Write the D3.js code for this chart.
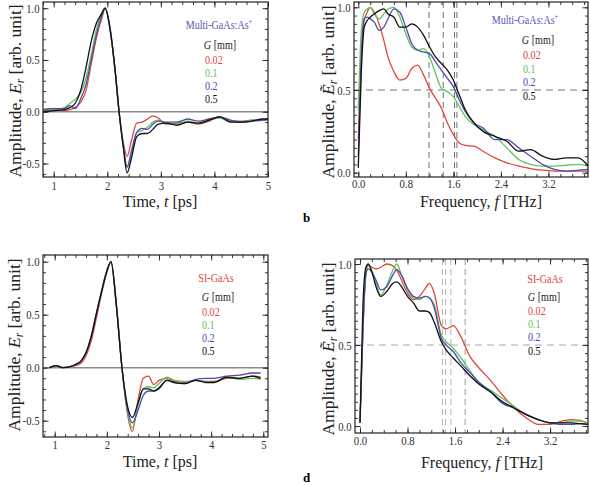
<!DOCTYPE html>
<html>
<head>
<meta charset="utf-8">
<script src="https://cdnjs.cloudflare.com/ajax/libs/d3/7.8.5/d3.min.js"></script>
<style>
  html, body { margin: 0; padding: 0; background: #fff; }
  svg { display: block; font-family: "Liberation Serif", "Times New Roman", serif; }
</style>
</head>
<body>
<svg id="chart" width="590" height="485"></svg>
<script>
// gap sizes G [mm] and their colours
const gapLabels = ["0.02", "0.1", "0.2", "0.5"];
const gapColors = ["#e2453c", "#5cc65a", "#4b4bb3", "#111111"];

// (a) Multi-GaAs:As+ time domain
const timeA = [0.8,1.0,1.2,1.3,1.4,1.5,1.6,1.7,1.8,1.9,1.96,2.05,2.15,2.22,2.3,2.37,2.45,2.55,2.65,2.75,2.85,2.95,3.1,3.3,3.5,3.7,3.9,4.1,4.3,4.5,4.7,4.9,5.0];
const aRed   = [0.02,0.03,0.01,0.02,0.04,0.09,0.2,0.46,0.72,0.91,1.0,0.8,0.38,0.0,-0.3,-0.43,-0.28,-0.11,-0.1,-0.07,-0.04,-0.06,-0.12,-0.11,-0.1,-0.12,-0.09,-0.05,-0.09,-0.09,-0.08,-0.08,-0.08];
const aGreen = [0.01,0.02,0.04,0.08,0.12,0.18,0.32,0.55,0.8,0.96,1.0,0.8,0.37,0.0,-0.33,-0.54,-0.4,-0.2,-0.18,-0.15,-0.1,-0.08,-0.11,-0.12,-0.09,-0.11,-0.08,-0.06,-0.1,-0.1,-0.08,-0.08,-0.06];
const aBlue  = [0.02,0.03,0.03,0.06,0.03,0.12,0.26,0.5,0.75,0.93,1.0,0.82,0.38,0.0,-0.33,-0.53,-0.38,-0.2,-0.16,-0.17,-0.12,-0.09,-0.1,-0.1,-0.07,-0.09,-0.07,-0.05,-0.08,-0.1,-0.09,-0.08,-0.07];
const aBlack = [0.0,0.01,0.02,0.04,0.08,0.2,0.42,0.68,0.86,0.95,1.0,0.8,0.38,0.0,-0.35,-0.59,-0.45,-0.24,-0.21,-0.21,-0.17,-0.12,-0.11,-0.13,-0.1,-0.11,-0.08,-0.05,-0.1,-0.1,-0.09,-0.07,-0.07];

// (b) Multi-GaAs:As+ spectra
const freqB = [0,0.05,0.1,0.15,0.2,0.27,0.35,0.43,0.5,0.6,0.7,0.8,0.9,1.0,1.1,1.2,1.3,1.4,1.5,1.6,1.7,1.8,1.95,2.1,2.3,2.5,2.7,2.9,3.1,3.3,3.5,3.7,3.87];
const bRed   = [0.2,0.7,0.92,0.97,1.0,0.97,0.9,0.8,0.7,0.61,0.56,0.57,0.63,0.65,0.59,0.51,0.45,0.39,0.3,0.23,0.18,0.165,0.16,0.13,0.09,0.06,0.04,0.025,0.015,0.01,0.01,0.01,0.01];
const bGreen = [0.38,0.85,0.97,0.99,1.0,0.96,0.93,0.96,0.99,1.0,0.94,0.84,0.76,0.74,0.75,0.7,0.6,0.51,0.49,0.46,0.4,0.34,0.29,0.26,0.22,0.15,0.08,0.05,0.04,0.04,0.045,0.05,0.04];
const bBlue  = [0.1,0.7,0.93,0.94,0.93,0.91,0.86,0.88,0.93,0.99,0.97,0.88,0.78,0.74,0.73,0.72,0.67,0.62,0.57,0.52,0.44,0.37,0.3,0.27,0.2,0.2,0.15,0.1,0.05,0.02,0.01,0.015,0.02];
const bBlack = [0.03,0.6,0.88,0.92,0.94,0.96,0.98,0.99,0.96,0.94,0.88,0.88,0.9,0.88,0.83,0.76,0.7,0.66,0.62,0.56,0.47,0.38,0.3,0.25,0.22,0.19,0.13,0.14,0.1,0.08,0.09,0.09,0.04];
const bCutoffs = [1.19, 1.43, 1.62, 1.66];

// (c) SI-GaAs time domain
const timeC = [0.9,1.03,1.15,1.3,1.4,1.5,1.6,1.7,1.8,1.9,2.0,2.08,2.18,2.29,2.4,2.49,2.6,2.7,2.8,2.9,3.0,3.15,3.3,3.5,3.7,3.9,4.05,4.3,4.55,4.8,4.95];
const cRed   = [0.0,0.02,0.0,0.01,0.02,0.04,0.11,0.25,0.47,0.7,0.9,1.0,0.62,0.0,-0.45,-0.6,-0.3,-0.1,-0.08,-0.16,-0.12,-0.1,-0.13,-0.14,-0.12,-0.13,-0.13,-0.1,-0.1,-0.08,-0.09];
const cGreen = [0.0,0.02,0.0,0.01,0.03,0.06,0.14,0.3,0.52,0.73,0.92,1.0,0.6,0.0,-0.42,-0.57,-0.35,-0.2,-0.18,-0.19,-0.15,-0.09,-0.12,-0.13,-0.12,-0.13,-0.14,-0.09,-0.11,-0.1,-0.11];
const cBlue  = [0.0,0.02,0.0,0.01,0.03,0.06,0.14,0.29,0.51,0.72,0.91,1.0,0.6,0.0,-0.4,-0.52,-0.4,-0.26,-0.22,-0.22,-0.2,-0.12,-0.14,-0.15,-0.11,-0.1,-0.1,-0.08,-0.07,-0.05,-0.05];
const cBlack = [0.0,0.02,0.0,0.01,0.03,0.06,0.14,0.29,0.51,0.72,0.91,1.0,0.6,0.0,-0.37,-0.47,-0.33,-0.2,-0.2,-0.22,-0.19,-0.12,-0.14,-0.15,-0.12,-0.14,-0.14,-0.09,-0.1,-0.08,-0.1];

// (d) SI-GaAs spectra
const freqD = [0,0.05,0.1,0.14,0.2,0.27,0.35,0.45,0.55,0.62,0.7,0.8,0.9,1.0,1.1,1.17,1.25,1.37,1.45,1.57,1.7,1.85,2.0,2.2,2.4,2.6,2.8,3.0,3.2,3.4,3.55,3.7,3.84];
const dRed   = [0.02,0.6,0.95,0.99,0.98,0.97,0.98,1.0,0.99,0.96,0.9,0.82,0.78,0.8,0.85,0.88,0.82,0.62,0.6,0.62,0.55,0.43,0.36,0.28,0.19,0.11,0.05,0.01,0.01,0.03,0.04,0.035,0.015];
const dGreen = [0.02,0.6,0.93,0.99,0.96,0.88,0.81,0.87,0.96,1.0,0.93,0.84,0.79,0.78,0.8,0.79,0.75,0.56,0.52,0.48,0.42,0.34,0.27,0.22,0.17,0.12,0.07,0.04,0.02,0.02,0.03,0.03,0.02];
const dBlue  = [0.02,0.6,0.94,0.97,0.95,0.9,0.84,0.86,0.93,0.965,0.93,0.85,0.8,0.79,0.8,0.79,0.73,0.54,0.5,0.46,0.39,0.33,0.27,0.21,0.14,0.11,0.07,0.04,0.02,0.01,0.01,0.015,0.01];
const dBlack = [0.02,0.75,0.98,1.0,0.95,0.86,0.8,0.83,0.88,0.89,0.86,0.8,0.76,0.71,0.71,0.7,0.64,0.52,0.47,0.42,0.37,0.31,0.26,0.21,0.15,0.11,0.07,0.04,0.02,0.02,0.02,0.015,0.01];
const dCutoffs = [1.39, 1.44, 1.53, 1.77];

// tick values
const timeTicks = [1, 2, 3, 4, 5];
const freqTicks = [0, 0.8, 1.6, 2.4, 3.2];
const timeAmpTicks = [-0.5, 0, 0.5, 1.0];
const specAmpTicks = [0, 0.5, 1.0];

const svg = d3.select("#chart");

function txt(parent, x, y, size, anchor, sx) {
  return parent.append("text")
    .attr("transform", `translate(${x},${y}) scale(${sx || 1},1)`)
    .attr("text-anchor", anchor || "start")
    .attr("font-size", size);
}

function drawPanel(p) {
  const x = d3.scaleLinear().domain(p.xDomain).range([p.left, p.right]);
  const y = d3.scaleLinear().domain(p.yDomain).range([p.bottom, p.top]);
  const g = svg.append("g");

  g.append("clipPath").attr("id", "clip-" + p.id)
    .append("rect")
    .attr("x", p.left).attr("y", p.top)
    .attr("width", p.right - p.left).attr("height", p.bottom - p.top);
  const plot = g.append("g").attr("clip-path", `url(#clip-${p.id})`);

  if (p.zeroLine) {
    plot.append("line")
      .attr("x1", p.left).attr("x2", p.right)
      .attr("y1", y(0)).attr("y2", y(0))
      .attr("stroke", "#8c8c8c").attr("stroke-width", 1.5);
  }

  if (p.cutoffs) {
    plot.append("line")
      .attr("x1", p.left).attr("x2", p.right)
      .attr("y1", y(0.5)).attr("y2", y(0.5))
      .attr("stroke", p.dashColor).attr("stroke-width", 1)
      .attr("stroke-dasharray", "7,5");
    plot.selectAll("line.cut")
      .data(p.cutoffs)
      .join("line")
      .attr("class", "cut")
      .attr("x1", d => x(d)).attr("x2", d => x(d))
      .attr("y1", p.top).attr("y2", p.bottom)
      .attr("stroke", (d, i) => p.cutColors[i]).attr("stroke-width", 1)
      .attr("stroke-dasharray", "6,4");
  }

  const line = d3.line()
    .x((d, i) => x(p.xs[i]))
    .y(d => y(d))
    .curve(d3.curveMonotoneX);

  plot.selectAll("path.curve")
    .data(p.series)
    .join("path")
    .attr("class", "curve")
    .attr("d", line)
    .attr("fill", "none")
    .attr("stroke", (d, i) => gapColors[i])
    .attr("stroke-width", 1.3);

  // frame
  g.append("rect")
    .attr("x", p.left).attr("y", p.top)
    .attr("width", p.right - p.left).attr("height", p.bottom - p.top)
    .attr("fill", "none").attr("stroke", "#222").attr("stroke-width", 1.2);

  // frame ticks, inward, on all four sides
  const sides = [
    { fn: d3.axisBottom, scale: x, tr: `translate(0,${p.bottom})`, major: p.xTicks, minor: p.xMinor, fmt: p.xFmt, pad: p.xPad },
    { fn: d3.axisTop,    scale: x, tr: `translate(0,${p.top})`,    major: p.xTicks, minor: p.xMinor, fmt: null },
    { fn: d3.axisLeft,   scale: y, tr: `translate(${p.left},0)`,   major: p.yTicks, minor: p.yMinor, fmt: d => d.toFixed(1), pad: 4 },
    { fn: d3.axisRight,  scale: y, tr: `translate(${p.right},0)`,  major: p.yTicks, minor: p.yMinor, fmt: null }
  ];
  sides.forEach(s => {
    const minorG = g.append("g").attr("transform", s.tr)
      .call(s.fn(s.scale).tickValues(s.minor).tickSize(-3).tickFormat(""));
    const majorG = g.append("g").attr("transform", s.tr)
      .call(s.fn(s.scale).tickValues(s.major).tickSize(-5.5)
        .tickPadding(s.pad || 3).tickFormat(s.fmt || ""));
    [minorG, majorG].forEach(a => {
      a.select(".domain").remove();
      a.attr("font-family", null).attr("font-size", 12.5).attr("color", "#222");
      a.selectAll("line").attr("stroke-width", 0.9);
    });
    majorG.selectAll("text").attr("fill", "#333")
      .attr("transform", "scale(0.86,1)");
  });

  // axis titles
  const yl = g.append("text")
    .attr("transform", `translate(${p.yLabelX},${p.yLabelY}) rotate(-90)`)
    .attr("text-anchor", "middle")
    .attr("font-size", 17.5)
    .attr("fill", "#222");
  yl.append("tspan").text("Amplitude, ");
  yl.append("tspan").attr("font-style", "italic").text(p.tilde ? "\u1EBC" : "E");
  yl.append("tspan").attr("font-style", "italic").attr("font-size", 11.5).attr("dy", 3).text("r");
  yl.append("tspan").attr("dy", -3).text(" [arb. unit]");

  const xl = g.append("text")
    .attr("x", p.xLabelX).attr("y", p.xLabelY)
    .attr("text-anchor", "middle")
    .attr("font-size", 16)
    .attr("fill", "#222");
  xl.append("tspan").text(p.xName + ", ");
  xl.append("tspan").attr("font-style", "italic").text(p.xSym);
  xl.append("tspan").text(" [" + p.xUnit + "]");

  // legend
  const lg = p.legend;
  const title = txt(g, lg.titleX, lg.titleY, 11.5, "middle", 0.88).attr("fill", lg.titleColor);
  title.append("tspan").text(p.sample);
  if (p.sup) title.append("tspan").attr("font-size", 7.5).attr("dy", -5).text(p.sup);
  const gm = txt(g, lg.gX, lg.gY, 11.5, "middle", 0.88).attr("fill", "#222");
  gm.append("tspan").attr("font-style", "italic").text("G");
  gm.append("tspan").text(" [mm]");
  gapLabels.forEach((lab, i) => {
    txt(g, lg.valX, lg.valY[i], 11.5, "start", 0.88)
      .attr("fill", gapColors[i]).text(lab);
  });
}

const panels = [
  {
    id: "a", xs: timeA, series: [aRed, aGreen, aBlue, aBlack],
    left: 43, right: 268, top: 2, bottom: 177,
    xDomain: [0.8, 5.0], yDomain: [-0.63, 1.06],
    xTicks: timeTicks, xMinor: d3.range(0.8, 5.01, 0.2), xFmt: d3.format("d"), xPad: 4,
    yTicks: timeAmpTicks, yMinor: d3.range(-0.6, 1.01, 0.1),
    zeroLine: true, tilde: false,
    yLabelX: 21, yLabelY: 91, xLabelX: 160, xLabelY: 207,
    xName: "Time", xSym: "t", xUnit: "ps",
    sample: "Multi-GaAs:As", sup: "+",
    legend: { titleColor: "#5656b4", titleX: 219, titleY: 29, gX: 220, gY: 49, valX: 205, valY: [64, 77, 90, 103] }
  },
  {
    id: "b", xs: freqB, series: [bRed, bGreen, bBlue, bBlack],
    left: 354, right: 588, top: 2, bottom: 177,
    xDomain: [-0.072, 3.866], yDomain: [-0.026, 1.032],
    xTicks: freqTicks, xMinor: d3.range(0, 3.85, 0.2), xFmt: d => d.toFixed(1), xPad: 2,
    yTicks: specAmpTicks, yMinor: d3.range(0, 1.01, 0.05),
    cutoffs: bCutoffs, cutColors: ["#6e6e6e", "#6e6e6e", "#6e6e6e", "#6e6e6e"], dashColor: "#777",
    tilde: true,
    yLabelX: 334, yLabelY: 92, xLabelX: 481, xLabelY: 207,
    xName: "Frequency", xSym: "f", xUnit: "THz",
    sample: "Multi-GaAs:As", sup: "+",
    legend: { titleColor: "#5656b4", titleX: 525, titleY: 24, gX: 538, gY: 44, valX: 523, valY: [59, 73, 86, 100] }
  },
  {
    id: "c", xs: timeC, series: [cRed, cGreen, cBlue, cBlack],
    left: 43, right: 268, top: 255, bottom: 437,
    xDomain: [0.776, 5.09], yDomain: [-0.654, 1.063],
    xTicks: timeTicks, xMinor: d3.range(0.8, 5.01, 0.2), xFmt: d3.format("d"), xPad: 3,
    yTicks: timeAmpTicks, yMinor: d3.range(-0.6, 1.01, 0.1),
    zeroLine: true, tilde: false,
    yLabelX: 20, yLabelY: 345, xLabelX: 160, xLabelY: 467,
    xName: "Time", xSym: "t", xUnit: "ps",
    sample: "SI-GaAs", sup: null,
    legend: { titleColor: "#e2453c", titleX: 216, titleY: 282, gX: 218, gY: 301, valX: 202, valY: [316, 329, 342, 355] }
  },
  {
    id: "d", xs: freqD, series: [dRed, dGreen, dBlue, dBlack],
    left: 355, right: 588, top: 259, bottom: 433,
    xDomain: [-0.084, 3.838], yDomain: [-0.043, 1.031],
    xTicks: freqTicks, xMinor: d3.range(0, 3.85, 0.2), xFmt: d => d.toFixed(1), xPad: 3,
    yTicks: specAmpTicks, yMinor: d3.range(0, 1.01, 0.05),
    cutoffs: dCutoffs, cutColors: ["#b4b4b4", "#b4b4b4", "#b4b4b4", "#9a9a9a"], dashColor: "#a8a8a8",
    tilde: true,
    yLabelX: 334, yLabelY: 349, xLabelX: 482, xLabelY: 468,
    xName: "Frequency", xSym: "f", xUnit: "THz",
    sample: "SI-GaAs", sup: null,
    legend: { titleColor: "#e2453c", titleX: 545, titleY: 283, gX: 544, gY: 301, valX: 528, valY: [315, 328, 341, 355] }
  }
];

panels.forEach(drawPanel);

// panel letters
svg.append("text").attr("x", 303).attr("y", 222)
  .attr("font-size", 13).attr("font-weight", "bold").text("b");
svg.append("text").attr("x", 303).attr("y", 482)
  .attr("font-size", 13).attr("font-weight", "bold").text("d");
</script>
</body>
</html>
